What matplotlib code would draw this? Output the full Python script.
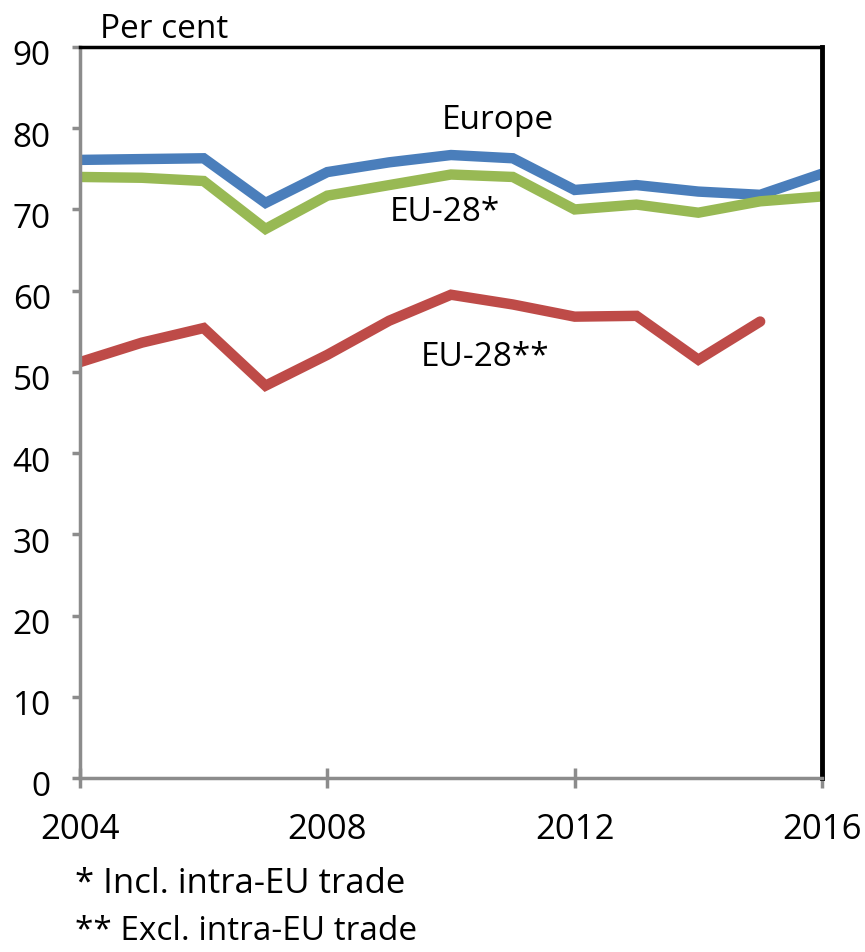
import matplotlib
matplotlib.use("Agg")
import matplotlib.pyplot as plt
import matplotlib.transforms as mtransforms

years = list(range(2004, 2017))
europe = [76.1, 76.2, 76.3, 70.8, 74.6, 75.8, 76.7, 76.3, 72.4, 73.0, 72.2, 71.8, 74.4]
eu28_incl = [74.0, 73.9, 73.5, 67.6, 71.7, 73.0, 74.3, 74.0, 70.0, 70.6, 69.6, 71.0, 71.6]
years_red = list(range(2004, 2016))
eu28_excl = [51.2, 53.6, 55.4, 48.3, 52.1, 56.3, 59.5, 58.3, 56.8, 56.9, 51.5, 56.2]

xticks = [2004, 2008, 2012, 2016]
yticks = list(range(0, 91, 10))

fam = ["Open Sans", "DejaVu Sans"]
fig = plt.figure(figsize=(8.65, 9.52), dpi=100)
ax = fig.add_axes([80/865, 1-778/952, (822-80)/865, (778-47)/952])

ax.plot(years, europe, color="#4A7EBB", lw=7.5, solid_joinstyle="miter", solid_capstyle="butt")
ax.plot(years, eu28_incl, color="#98B954", lw=7.5, solid_joinstyle="miter", solid_capstyle="butt")
ax.plot(years_red, eu28_excl, color="#BE4B48", lw=7.5, solid_joinstyle="miter", solid_capstyle="round")

ax.set_xlim(2004, 2016)
ax.set_ylim(0, 90)
ax.set_xticks(xticks)
ax.set_yticks(yticks)
ax.set_xticklabels([str(x) for x in xticks], fontsize=25, family=fam)
ax.set_yticklabels([str(y) for y in yticks], fontsize=24, family=fam)
ax.tick_params(axis="y", direction="out", length=6, width=2.5, color="#8C8C8C", pad=15)
ax.tick_params(axis="x", direction="inout", length=14, width=2.5, color="#8C8C8C", pad=18)

off = mtransforms.ScaledTranslation(0, -6/100, fig.dpi_scale_trans)
for lab in ax.get_yticklabels():
    lab.set_transform(lab.get_transform() + off)

for s in ["left", "bottom"]:
    ax.spines[s].set_color("#8C8C8C")
    ax.spines[s].set_linewidth(2.5)
ax.spines["top"].set_color("black")
ax.spines["top"].set_linewidth(2.5)
ax.spines["right"].set_color("black")
ax.spines["right"].set_linewidth(3.5)

ax.text(2010.75, 81.0, "Europe", fontsize=24, family=fam, ha="center", va="center")
ax.text(2009.9, 69.6, "EU-28*", fontsize=24, family=fam, ha="center", va="center")
ax.text(2010.55, 51.8, "EU-28**", fontsize=24, family=fam, ha="center", va="center")

fig.text(100/865, 1-30/952, "Per cent", fontsize=24, family=fam, ha="left", va="center")
fig.text(75/865, 1-884/952, "* Incl. intra-EU trade", fontsize=25, family=fam, ha="left", va="center")
fig.text(75/865, 1-931/952, "** Excl. intra-EU trade", fontsize=24, family=fam, ha="left", va="center")

fig.savefig("out.png", dpi=100)
